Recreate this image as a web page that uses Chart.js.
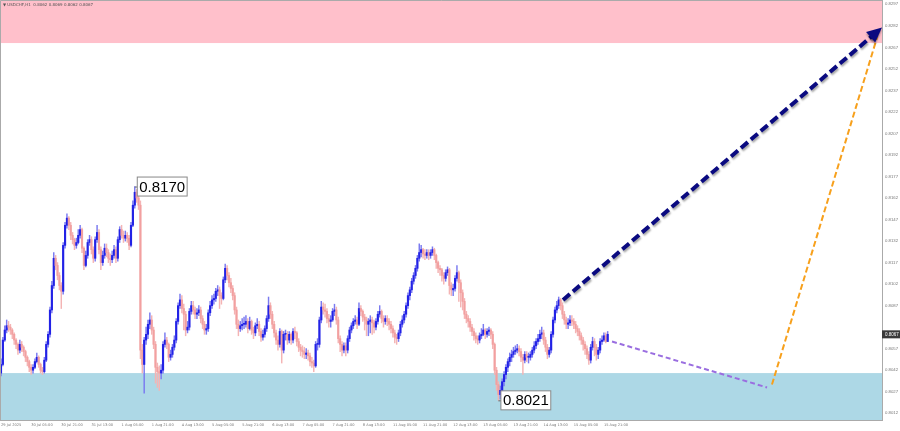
<!DOCTYPE html>
<html>
<head>
<meta charset="utf-8">
<style>
  html, body { margin: 0; padding: 0; background: #fff; }
  #wrap { width: 900px; height: 431px; }
</style>
<script src="https://cdn.jsdelivr.net/npm/chart.js@4.4.1/dist/chart.umd.min.js"></script>
</head>
<body>
<div id="wrap"><canvas id="chart" width="900" height="431"></canvas></div>
<script>
// USDCHF H1, prices in pips (8067 = 0.8067); open of each bar is the previous close
const firstOpen = 8040;
const closes = [
  8046,8063,8070,8073,8072,8070,8067,8063,8060,8056,8060,8058,8055,8051,8048,8044,
  8042,8044,8048,8051,8046,8042,8041,8049,8060,8067,8084,8101,8120,8115,8108,8101,
  8097,8129,8143,8148,8143,8136,8133,8129,8131,8136,8140,8127,8115,8122,8131,8133,
  8126,8120,8133,8138,8126,8117,8122,8127,8124,8120,8119,8122,8126,8120,8133,8140,
  8136,8134,8136,8134,8129,8143,8157,8166,8162,8157,8056,8046,8063,8067,8074,8077,
  8070,8060,8044,8041,8040,8042,8060,8063,8060,8051,8053,8058,8063,8076,8087,8091,
  8085,8081,8070,8072,8083,8087,8084,8081,8082,8084,8078,8074,8070,8071,8082,8087,
  8091,8092,8097,8098,8094,8092,8105,8113,8108,8103,8099,8094,8084,8074,8071,8073,
  8074,8074,8076,8071,8076,8070,8068,8073,8074,8069,8065,8067,8071,8078,8087,8081,
  8074,8068,8063,8060,8069,8056,8067,8067,8063,8067,8063,8069,8068,8062,8058,8056,
  8055,8053,8054,8052,8048,8047,8045,8060,8060,8077,8086,8084,8083,8078,8076,8077,
  8083,8084,8077,8064,8060,8056,8059,8056,8064,8070,8073,8076,8077,8074,8085,8083,
  8079,8077,8074,8076,8077,8075,8072,8076,8081,8083,8078,8076,8078,8076,8074,8071,
  8068,8065,8064,8068,8074,8077,8081,8087,8094,8098,8104,8108,8113,8120,8124,8126,
  8123,8122,8124,8122,8124,8126,8122,8117,8113,8112,8108,8106,8110,8112,8101,8098,
  8099,8106,8110,8103,8096,8090,8081,8078,8076,8072,8069,8066,8064,8063,8066,8067,
  8070,8067,8069,8070,8067,8060,8042,8032,8025,8028,8034,8039,8044,8048,8051,8053,
  8055,8056,8057,8055,8051,8049,8053,8051,8051,8053,8056,8059,8062,8064,8067,8068,
  8063,8058,8053,8056,8067,8077,8084,8087,8091,8087,8081,8077,8074,8075,8077,8076,
  8074,8071,8069,8066,8063,8060,8057,8053,8049,8058,8062,8058,8053,8056,8062,8063,8066,8062,8067
];
const highs = [
  8050,8065,8073,8077,8076,8074,8071,8068,8064,8061,8063,8062,8059,8056,8052,8049,
  8046,8046,8050,8054,8052,8047,8044,8051,8062,8069,8086,8104,8124,8122,8117,8110,
  8103,8131,8145,8151,8149,8145,8138,8134,8134,8140,8143,8141,8128,8125,8133,8136,
  8135,8128,8135,8143,8140,8128,8125,8130,8130,8126,8123,8125,8129,8128,8135,8142,
  8143,8139,8139,8138,8136,8145,8160,8170,8168,8164,8160,8060,8065,8072,8077,8082,
  8080,8072,8062,8047,8045,8046,8062,8068,8065,8061,8056,8060,8066,8078,8089,8095,
  8094,8088,8083,8076,8085,8090,8090,8086,8085,8087,8086,8080,8076,8074,8084,8090,
  8094,8095,8099,8101,8100,8096,8107,8116,8115,8110,8106,8101,8096,8086,8077,8076,
  8078,8079,8080,8078,8079,8077,8072,8075,8078,8076,8071,8070,8073,8080,8093,8089,
  8083,8076,8070,8066,8071,8070,8069,8070,8069,8069,8068,8071,8072,8069,8064,8060,
  8059,8058,8057,8056,8054,8051,8049,8062,8064,8079,8090,8089,8088,8085,8081,8080,
  8085,8088,8086,8079,8066,8062,8061,8061,8066,8072,8075,8078,8080,8079,8089,8087,
  8084,8081,8079,8078,8080,8079,8077,8078,8083,8087,8084,8080,8080,8080,8078,8076,
  8073,8070,8067,8070,8076,8080,8083,8089,8096,8100,8106,8110,8115,8122,8130,8129,
  8127,8126,8126,8126,8126,8128,8127,8123,8118,8115,8113,8110,8112,8114,8113,8103,
  8102,8108,8115,8111,8105,8098,8092,8083,8080,8078,8074,8071,8068,8066,8068,8071,
  8074,8071,8071,8072,8071,8069,8061,8044,8034,8031,8036,8041,8046,8050,8054,8056,
  8058,8059,8060,8059,8057,8053,8055,8055,8054,8055,8058,8062,8064,8067,8070,8072,
  8070,8065,8060,8058,8069,8079,8086,8090,8093,8092,8089,8083,8079,8078,8080,8080,
  8078,8076,8073,8071,8068,8065,8062,8059,8055,8060,8065,8064,8060,8058,8064,8066,8068,8068,8069
];
const lows = [
  8038,8045,8062,8068,8069,8067,8064,8060,8057,8053,8054,8055,8052,8048,8045,8041,
  8039,8040,8043,8047,8044,8040,8039,8040,8048,8058,8065,8082,8099,8112,8105,8098,
  8085,8095,8127,8141,8140,8133,8130,8126,8127,8130,8134,8124,8112,8114,8120,8129,
  8123,8117,8118,8131,8123,8112,8115,8120,8121,8117,8115,8117,8120,8117,8118,8131,
  8134,8131,8132,8131,8126,8128,8142,8155,8159,8154,8050,8040,8026,8060,8064,8071,
  8067,8057,8033,8030,8028,8036,8040,8058,8057,8048,8049,8051,8056,8061,8074,8085,
  8082,8070,8066,8068,8070,8081,8081,8078,8078,8080,8075,8071,8067,8067,8069,8080,
  8085,8088,8090,8094,8085,8088,8091,8103,8105,8100,8096,8091,8081,8071,8066,8069,
  8070,8071,8072,8068,8070,8067,8064,8066,8071,8066,8062,8063,8065,8069,8076,8078,
  8071,8065,8060,8056,8058,8047,8054,8063,8060,8061,8060,8061,8064,8059,8055,8052,
  8051,8050,8050,8049,8045,8044,8041,8044,8056,8058,8075,8081,8079,8075,8072,8072,
  8076,8080,8074,8061,8055,8052,8054,8052,8054,8062,8068,8071,8074,8071,8073,8080,
  8076,8070,8066,8066,8068,8067,8068,8070,8074,8079,8075,8072,8074,8073,8070,8068,
  8065,8061,8060,8062,8066,8072,8075,8079,8085,8091,8096,8102,8106,8111,8118,8121,
  8120,8119,8120,8119,8120,8122,8119,8113,8110,8108,8104,8102,8104,8108,8095,8094,
  8094,8097,8104,8090,8086,8084,8078,8075,8072,8069,8066,8063,8061,8060,8061,8064,
  8066,8064,8065,8066,8064,8057,8039,8028,8021,8022,8026,8031,8036,8041,8045,8048,
  8051,8053,8054,8052,8048,8039,8047,8048,8047,8049,8051,8054,8057,8060,8062,8064,
  8060,8055,8050,8051,8054,8065,8075,8082,8085,8084,8078,8074,8071,8071,8073,8073,
  8071,8068,8066,8063,8060,8056,8053,8050,8046,8047,8056,8052,8049,8050,8054,8060,8062,8061,8062
];

// time axis labels, one every 16 bars
const xTickLabels = [
  "29 Jul 2025", "30 Jul 05:00", "30 Jul 21:00", "31 Jul 13:00", "1 Aug 05:00",
  "1 Aug 21:00", "4 Aug 13:00", "5 Aug 05:00", "5 Aug 21:00", "6 Aug 13:00",
  "7 Aug 05:00", "7 Aug 21:00", "8 Aug 13:00", "11 Aug 05:00", "11 Aug 21:00",
  "12 Aug 13:00", "13 Aug 05:00", "13 Aug 21:00", "14 Aug 13:00", "15 Aug 05:00",
  "15 Aug 21:00"
];
const yTicks = [0.8297, 0.8282, 0.8267, 0.8252, 0.8237, 0.8222, 0.8207, 0.8192, 0.8177,
  0.8162, 0.8147, 0.8132, 0.8117, 0.8102, 0.8087, 0.8057, 0.8042, 0.8027, 0.8012];

// zones and forecast paths
const sellZone = [0.8270, 0.8310];
const buyZone = [0.7990, 0.8040];
const mainArrowX = [298.3, 466.0];
const mainArrowY = [0.8091, 0.8279];
const pullbackX = [324.3, 406.6];
const pullbackY = [0.8062, 0.8030];
const rallyX = [409.2, 465.0];
const rallyY = [0.8032, 0.8274];
const markIdx = [71, 264];
const markVal = [0.8170, 0.8021];
const titleText = "▼ USDCHF,H1  0.8062 0.8069 0.8062 0.8067";

const UP = "#2222e6";
const DOWN = "#f2a0a0";
const toPrice = v => v / 10000;

const opens = closes.map((c, i) => i === 0 ? firstOpen : closes[i - 1]);
const colors = closes.map((c, i) => c < opens[i] ? DOWN : UP);
const wickColors = closes.map((c, i) => c < opens[i] ? "#f4b4b4" : "#7a7af0");
const wickData = closes.map((c, i) => ({ x: i, y: [toPrice(lows[i]), toPrice(highs[i])] }));
const bodyData = closes.map((c, i) => ({ x: i, y: [toPrice(opens[i]), toPrice(c)] }));
const toPts = (xs, ys) => xs.map((x, i) => ({ x: x, y: ys[i] }));

const noPad = s => { s.paddingTop = 0; s.paddingBottom = 0; s.paddingLeft = 0; s.paddingRight = 0; };

const overlay = {
  id: "overlay",
  beforeDatasetsDraw(chart) {
    const { ctx, chartArea: a, scales: { y } } = chart;
    ctx.save();
    ctx.beginPath();
    ctx.rect(a.left, a.top, a.right - a.left, a.bottom - a.top);
    ctx.clip();
    ctx.fillStyle = "#ffc0cb";
    let t = y.getPixelForValue(sellZone[1]), b = y.getPixelForValue(sellZone[0]);
    ctx.fillRect(a.left, t, a.right - a.left, b - t);
    ctx.fillStyle = "#add8e6";
    t = y.getPixelForValue(buyZone[1]); b = y.getPixelForValue(buyZone[0]);
    ctx.fillRect(a.left, t, a.right - a.left, b - t);
    ctx.restore();
    ctx.save();
    ctx.fillStyle = "#555";
    ctx.font = "4px 'DejaVu Sans'";
    ctx.textBaseline = "middle";
    ctx.fillText(titleText, 3, 5);
    ctx.restore();
  },
  beforeDatasetDraw(chart, args) {
    if (args.meta.index !== 0) return;
    const ctx = chart.ctx;
    ctx.save();
    ctx.shadowColor = "rgba(0,0,0,0.35)";
    ctx.shadowBlur = 2;
    ctx.shadowOffsetX = 1;
    ctx.shadowOffsetY = 2;
  },
  afterDatasetDraw(chart, args) {
    if (args.meta.index === 0) chart.ctx.restore();
  },
  afterDatasetsDraw(chart) {
    const { ctx, scales: { x, y } } = chart;
    // arrow head of the main forecast
    const x0 = x.getPixelForValue(mainArrowX[0]), y0 = y.getPixelForValue(mainArrowY[0]);
    const x1 = x.getPixelForValue(mainArrowX[1]), y1 = y.getPixelForValue(mainArrowY[1]);
    const ang = Math.atan2(y1 - y0, x1 - x0);
    const tipX = x1 + 4 * Math.cos(ang), tipY = y1 + 4 * Math.sin(ang);
    ctx.save();
    ctx.fillStyle = "#0a0a80";
    ctx.shadowColor = "rgba(0,0,0,0.35)";
    ctx.shadowBlur = 2;
    ctx.shadowOffsetY = 2;
    ctx.beginPath();
    ctx.moveTo(tipX, tipY);
    ctx.lineTo(tipX - 15 * Math.cos(ang) + 7 * Math.sin(ang), tipY - 15 * Math.sin(ang) - 7 * Math.cos(ang));
    ctx.lineTo(tipX - 15 * Math.cos(ang) - 7 * Math.sin(ang), tipY - 15 * Math.sin(ang) + 7 * Math.cos(ang));
    ctx.closePath();
    ctx.fill();
    ctx.restore();

    // price labels of the extremes
    ctx.save();
    ctx.font = "15px 'Liberation Sans'";
    ctx.textBaseline = "middle";
    markIdx.forEach((idx, k) => {
      const px = x.getPixelForValue(idx), py = y.getPixelForValue(markVal[k]);
      const txt = markVal[k].toFixed(4);
      const w = ctx.measureText(txt).width + 4;
      ctx.strokeStyle = "#666";
      ctx.lineWidth = 1;
      ctx.beginPath();
      ctx.moveTo(px, py + 0.5);
      ctx.lineTo(px + 3, py + 0.5);
      ctx.stroke();
      ctx.fillStyle = "#fff";
      ctx.fillRect(px + 2.5, py - 9.5, w, 19);
      ctx.strokeStyle = "#888";
      ctx.strokeRect(px + 2.5, py - 9.5, w, 19);
      ctx.fillStyle = "#000";
      ctx.fillText(txt, px + 4.5, py + 1);
    });
    ctx.restore();
  },
  afterDraw(chart) {
    const { ctx, chartArea: a, scales: { y } } = chart;
    ctx.save();
    ctx.strokeStyle = "#aaa";
    ctx.lineWidth = 1;
    ctx.beginPath();
    ctx.moveTo(0.5, a.bottom);
    ctx.lineTo(0.5, 0.5);
    ctx.lineTo(a.right, 0.5);
    ctx.stroke();
    // current price tag on the axis
    const last = toPrice(closes[closes.length - 1]);
    const py = y.getPixelForValue(last);
    ctx.fillStyle = "#3a3a3a";
    ctx.fillRect(a.right, py - 4, 900 - a.right, 8);
    ctx.fillStyle = "#fff";
    ctx.font = "4.5px 'Liberation Sans'";
    ctx.textBaseline = "middle";
    ctx.fillText(last.toFixed(4), a.right + 3, py);
    ctx.restore();
  }
};

new Chart(document.getElementById("chart"), {
  type: "bar",
  data: {
    datasets: [
      {
        type: "line", data: toPts(mainArrowX, mainArrowY), borderColor: "#0a0a80",
        borderWidth: 4, borderDash: [9, 4], pointRadius: 0, order: 0
      },
      {
        type: "line", data: toPts(rallyX, rallyY), borderColor: "#f7a01c",
        borderWidth: 2, borderDash: [6, 3], pointRadius: 0, order: 0
      },
      {
        type: "line", data: toPts(pullbackX, pullbackY), borderColor: "#9a6ee0",
        borderWidth: 2, borderDash: [5, 3], pointRadius: 0, order: 0
      },
      {
        data: bodyData, backgroundColor: colors, barThickness: 1.5, minBarLength: 1,
        grouped: false, order: 1
      },
      {
        data: wickData, backgroundColor: wickColors, barThickness: 0.8,
        grouped: false, order: 2
      }
    ]
  },
  options: {
    responsive: false,
    animation: false,
    devicePixelRatio: 1,
    layout: { padding: 0 },
    plugins: { legend: { display: false }, tooltip: { enabled: false } },
    scales: {
      x: {
        type: "linear",
        offset: false,
        min: -0.53,
        max: 467.6,
        grid: { display: false, drawTicks: false },
        border: { display: true, color: "#aaa" },
        afterBuildTicks: s => { s.ticks = xTickLabels.map((_, k) => ({ value: k * 16 })); },
        afterFit: s => { s.height = 11; noPad(s); },
        ticks: {
          autoSkip: false, maxRotation: 0, align: "start", padding: 3,
          color: "#777", font: { size: 3.6, family: "DejaVu Sans" },
          callback: (v, i) => xTickLabels[i]
        }
      },
      y: {
        position: "right",
        min: 0.80073,
        max: 0.8300,
        grid: { display: false, drawTicks: false },
        border: { display: true, color: "#aaa" },
        afterBuildTicks: s => { s.ticks = yTicks.map(v => ({ value: v })); },
        afterFit: s => { s.width = 18; noPad(s); },
        ticks: {
          autoSkip: false, padding: 3, color: "#777",
          font: { size: 4.3, family: "Liberation Sans" },
          callback: v => Number(v).toFixed(4)
        }
      }
    }
  },
  plugins: [overlay]
});
</script>
</body>
</html>
